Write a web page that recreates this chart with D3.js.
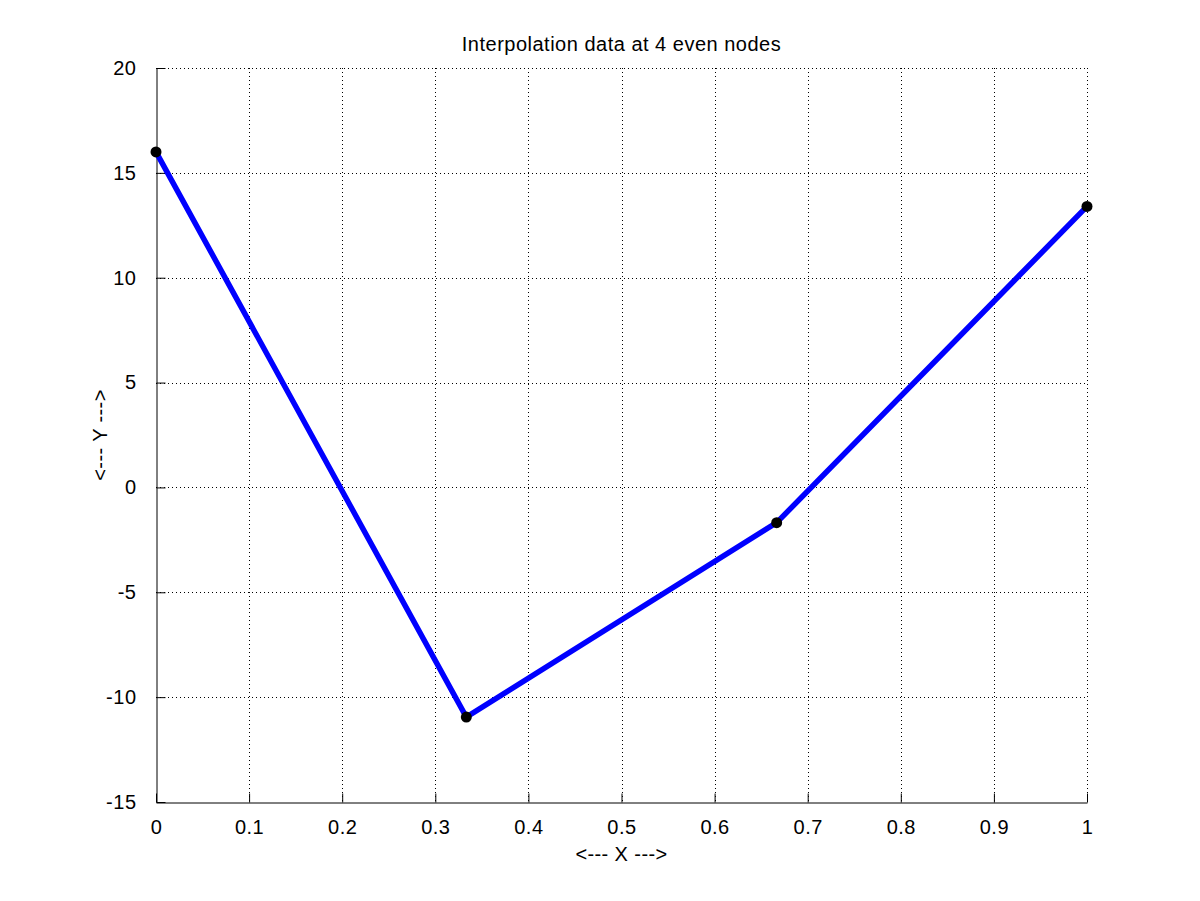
<!DOCTYPE html>
<html>
<head>
<meta charset="utf-8">
<title>Interpolation data</title>
<script src="https://d3js.org/d3.v7.min.js"></script>
<style>
  body { margin: 0; background: #fff; }
  text { font-family: "Liberation Sans", Arial, sans-serif; fill: #000; }
</style>
</head>
<body>
<div id="chart"></div>
<script>
// data
var xNodes = [0, 1/3, 2/3, 1];
var yNodes = [16.0, -10.95, -1.68, 13.4];
var xTicks = [0, 0.1, 0.2, 0.3, 0.4, 0.5, 0.6, 0.7, 0.8, 0.9, 1];
var yTicks = [-15, -10, -5, 0, 5, 10, 15, 20];

var width = 1200, height = 901;
var padL = 156, padR = 1087, padT = 68, padB = 802;

var svg = d3.select("#chart").append("svg")
    .attr("width", width)
    .attr("height", height);

var x = d3.scaleLinear().domain([0, 1]).range([padL, padR]);
var y = d3.scaleLinear().domain([-15, 20]).range([padB, padT]);

// dotted grid
svg.append("g").selectAll("line")
  .data(xTicks.slice(1))
  .enter().append("line")
    .attr("x1", function(d) { return Math.round(x(d)) + 0.5; })
    .attr("x2", function(d) { return Math.round(x(d)) + 0.5; })
    .attr("y1", padT).attr("y2", padB)
    .attr("stroke", "#000").attr("stroke-width", 1)
    .attr("stroke-dasharray", "1,3");
svg.append("g").selectAll("line")
  .data(yTicks.slice(1))
  .enter().append("line")
    .attr("y1", function(d) { return Math.round(y(d)) + 0.5; })
    .attr("y2", function(d) { return Math.round(y(d)) + 0.5; })
    .attr("x1", padL).attr("x2", padR)
    .attr("stroke", "#000").attr("stroke-width", 1)
    .attr("stroke-dasharray", "1,3");

// axes, ticks pointing inward; plain hyphen for minus like the original
var fmt = function(d) { return String(+d.toFixed(2)); };
var xAxis = d3.axisBottom(x).tickValues(xTicks).tickSizeInner(-9).tickSizeOuter(0)
    .tickPadding(20).tickFormat(fmt);
var yAxis = d3.axisLeft(y).tickValues(yTicks).tickSizeInner(-9).tickSizeOuter(0)
    .tickPadding(20).tickFormat(fmt);

var gx = svg.append("g").attr("transform", "translate(0," + (padB + 0.5) + ")").call(xAxis);
var gy = svg.append("g").attr("transform", "translate(" + (padL + 0.5) + ",0)").call(yAxis);
[gx, gy].forEach(function(g) {
  g.select(".domain").attr("stroke", "#000");
  g.selectAll(".tick line").attr("stroke", "#000");
  g.selectAll(".tick text")
    .style("font-size", "20px")
    .style("letter-spacing", "0.5px")
    .style("font-family", "Liberation Sans, Arial, sans-serif");
});
gx.selectAll(".tick text").attr("dy", "0.55em");

// line + nodes
var line = d3.line()
  .x(function(d) { return x(d[0]); })
  .y(function(d) { return y(d[1]); });
var pts = xNodes.map(function(v, i) { return [v, yNodes[i]]; });

svg.append("path")
  .datum(pts)
  .attr("d", line)
  .attr("fill", "none")
  .attr("stroke", "#0000ff")
  .attr("stroke-width", 5.5);

svg.selectAll("circle.node")
  .data(pts)
  .enter().append("circle")
    .attr("class", "node")
    .attr("cx", function(d) { return x(d[0]); })
    .attr("cy", function(d) { return y(d[1]); })
    .attr("r", 5.5)
    .attr("fill", "#000");

// titles
svg.append("text")
  .attr("x", (padL + padR) / 2).attr("y", 51)
  .attr("text-anchor", "middle")
  .style("font-size", "20px")
  .style("letter-spacing", "0.5px")
  .text("Interpolation data at 4 even nodes");

svg.append("text")
  .attr("x", (padL + padR) / 2).attr("y", 861)
  .attr("text-anchor", "middle")
  .style("font-size", "20px")
  .style("letter-spacing", "0.4px")
  .text("<--- X --->");

svg.append("text")
  .attr("transform", "translate(107," + ((padT + padB) / 2) + ") rotate(-90)")
  .attr("text-anchor", "middle")
  .style("font-size", "20px")
  .style("letter-spacing", "0.4px")
  .text("<--- Y --->");
</script>
</body>
</html>
